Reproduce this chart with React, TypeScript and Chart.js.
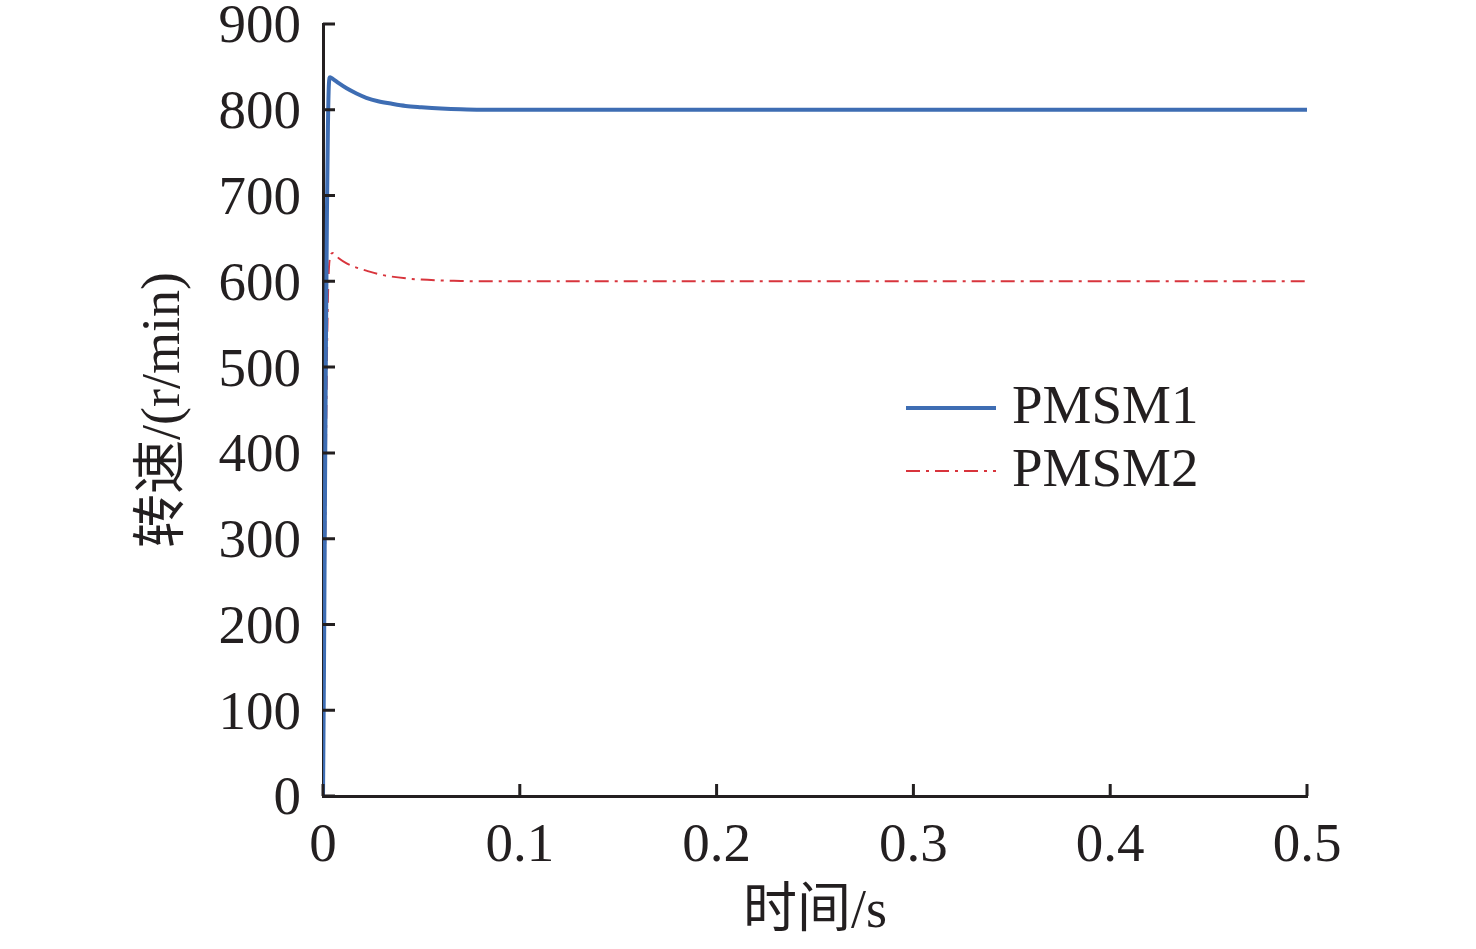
import React, { useEffect, useRef } from 'react';
import { Chart, registerables, Plugin } from 'chart.js';

Chart.register(...registerables);

// time axis (s) and speed of each motor (r/min)
const timeS = [
  0, 0.0005, 0.001, 0.0015, 0.002, 0.0025, 0.003, 0.0036, 0.005, 0.008, 0.012,
  0.017, 0.022, 0.028, 0.035, 0.042, 0.05, 0.06, 0.07, 0.08, 0.1, 0.15, 0.2,
  0.25, 0.3, 0.35, 0.4, 0.45, 0.5,
];
const pmsm1 = [
  0, 150, 350, 530, 680, 780, 830, 838, 836, 831, 825, 819, 814, 810, 807,
  804.5, 803, 801.5, 800.5, 800, 800, 800, 800, 800, 800, 800, 800, 800, 800,
];
const pmsm2 = [
  0, 110, 260, 400, 510, 580, 615, 628, 633, 627, 621, 616, 612.5, 608.5, 605.5,
  603.5, 602, 601, 600.5, 600, 600, 600, 600, 600, 600, 600, 600, 600, 600,
];
const seriesNames = ['PMSM1', 'PMSM2'];
const xTicks = [0, 0.1, 0.2, 0.3, 0.4, 0.5];
const yTicks = [0, 100, 200, 300, 400, 500, 600, 700, 800, 900];

const FONT = '"Liberation Serif", "Noto Sans CJK SC", serif';
const INK = '#231f20';
const BLUE = '#3e6db3';
const RED = '#d8343c';
const RED_DASH = [14, 6, 3, 6];

// inward tick marks on the left and bottom axes
const innerTicks: Plugin = {
  id: 'innerTicks',
  afterDraw(chart) {
    const { ctx, chartArea } = chart;
    const x = chart.scales.x;
    const y = chart.scales.y;
    ctx.save();
    ctx.strokeStyle = INK;
    ctx.lineWidth = 3;
    ctx.beginPath();
    xTicks.forEach((v) => {
      const px = x.getPixelForValue(v);
      ctx.moveTo(px, chartArea.bottom);
      ctx.lineTo(px, chartArea.bottom - 12);
    });
    yTicks.forEach((v) => {
      const py = y.getPixelForValue(v);
      ctx.moveTo(chartArea.left, py);
      ctx.lineTo(chartArea.left + 12, py);
    });
    ctx.stroke();
    ctx.restore();
  },
};

// legend drawn inside the plot area
const innerLegend: Plugin = {
  id: 'innerLegend',
  afterDraw(chart) {
    const { ctx, chartArea } = chart;
    const x0 = chartArea.left + 583;
    const rows = [chartArea.top + 384, chartArea.top + 447];
    ctx.save();
    ctx.font = `55px ${FONT}`;
    ctx.fillStyle = INK;
    ctx.textBaseline = 'middle';
    chart.data.datasets.forEach((ds: any, i) => {
      ctx.beginPath();
      ctx.strokeStyle = ds.borderColor;
      ctx.lineWidth = ds.borderWidth;
      ctx.setLineDash(ds.borderDash || []);
      ctx.moveTo(x0, rows[i]);
      ctx.lineTo(x0 + 90, rows[i]);
      ctx.stroke();
      ctx.setLineDash([]);
      ctx.fillText(seriesNames[i], x0 + 106, rows[i] + 1);
    });
    ctx.restore();
  },
};

const SpeedChart: React.FC = () => {
  const canvasRef = useRef<HTMLCanvasElement | null>(null);

  useEffect(() => {
    document.body.style.margin = '0';
    if (!canvasRef.current) return;
    const chart = new Chart(canvasRef.current, {
      type: 'line',
      data: {
        datasets: [
          {
            label: seriesNames[0],
            data: timeS.map((t, i) => ({ x: t, y: pmsm1[i] })),
            borderColor: BLUE,
            borderWidth: 4,
            pointRadius: 0,
            cubicInterpolationMode: 'monotone',
          },
          {
            label: seriesNames[1],
            data: timeS.map((t, i) => ({ x: t, y: pmsm2[i] })),
            borderColor: RED,
            borderWidth: 2,
            borderDash: RED_DASH,
            pointRadius: 0,
            cubicInterpolationMode: 'monotone',
          },
        ],
      },
      options: {
        responsive: false,
        animation: false,
        layout: { padding: { top: 24, right: 169, bottom: 0, left: 0 } },
        plugins: { legend: { display: false }, tooltip: { enabled: false } },
        scales: {
          x: {
            type: 'linear',
            min: 0,
            max: 0.5,
            afterBuildTicks: (s) => {
              s.ticks = xTicks.map((v) => ({ value: v }));
            },
            afterFit: (s) => {
              s.height = 153;
              s.paddingLeft = 0;
              s.paddingRight = 0;
            },
            grid: { display: false, drawTicks: false },
            border: { display: true, color: INK, width: 3 },
            ticks: {
              padding: 18,
              color: INK,
              font: { family: FONT, size: 55 },
              callback: (v) => String(v),
            },
            title: {
              display: true,
              text: '时间/s',
              color: INK,
              font: { family: FONT, size: 54 },
              padding: { top: 0, bottom: 4 },
            },
          },
          y: {
            type: 'linear',
            min: 0,
            max: 900,
            afterBuildTicks: (s) => {
              s.ticks = yTicks.map((v) => ({ value: v }));
            },
            afterFit: (s) => {
              s.width = 323;
              s.paddingTop = 0;
              s.paddingBottom = 0;
            },
            grid: { display: false, drawTicks: false },
            border: { display: true, color: INK, width: 3 },
            ticks: {
              padding: 22,
              labelOffset: 4,
              color: INK,
              font: { family: FONT, size: 55 },
              callback: (v) => String(v),
            },
            title: {
              display: true,
              text: '转速/(r/min)',
              color: INK,
              font: { family: FONT, size: 54 },
              padding: { top: 132, bottom: 0 },
            },
          },
        },
      },
      plugins: [innerTicks, innerLegend],
    });
    return () => chart.destroy();
  }, []);

  return <canvas ref={canvasRef} width={1476} height={949} style={{ display: 'block' }} />;
};

export default function App() {
  return <SpeedChart />;
}
